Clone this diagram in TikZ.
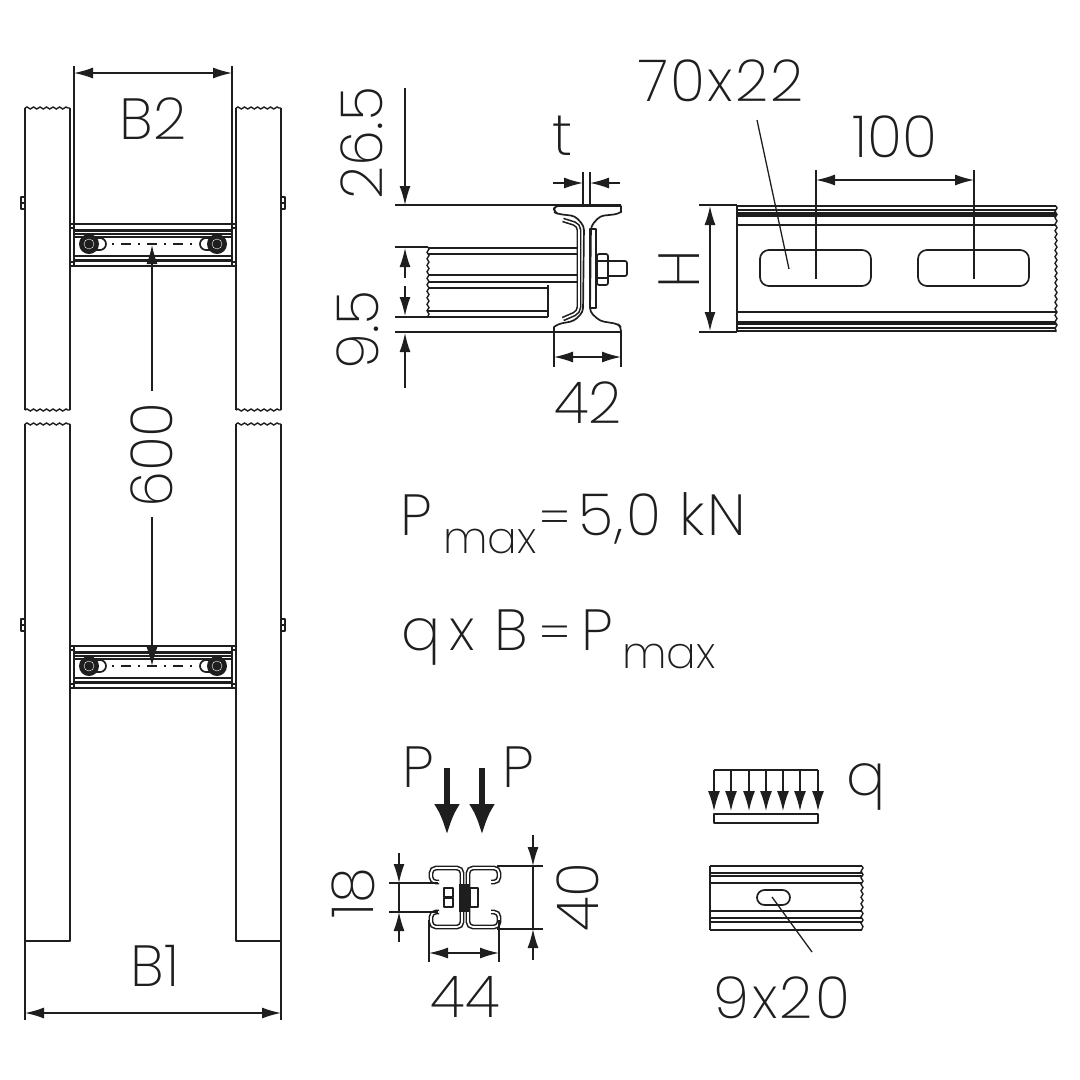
\documentclass[tikz,border=0pt]{standalone}
\usepackage{fontspec}
\usepackage{xcolor}
\usetikzlibrary{arrows.meta,decorations.pathmorphing}
\setmainfont{Poppins}[UprightFont={* ExtraLight}]
\definecolor{ink}{HTML}{1E1E1E}
\tikzset{
  base/.style={draw=ink, line width=1.7pt, line join=round},
  thin/.style={draw=ink, line width=1.3pt},
  heavy/.style={draw=ink, line width=3pt},
  dim/.style={draw=ink, line width=1.4pt, {Latex[length=19pt,width=11pt]}-{Latex[length=19pt,width=11pt]}},
  dimto/.style={draw=ink, line width=1.4pt, -{Latex[length=19pt,width=11pt]}},
  wave/.style={draw=ink, line width=1.4pt, decorate, decoration={snake, amplitude=1pt, segment length=6.5pt}},
  load/.style={draw=ink, line width=1.4pt, -{Latex[length=20pt,width=12pt]}},
  lab/.style={text=ink, font=\fontsize{58pt}{58pt}\selectfont, inner sep=0pt},
  labwide/.style={text=ink, font=\fontsize{58pt}{58pt}\selectfont\addfontfeature{LetterSpace=4}, inner sep=0pt},
  labeq/.style={text=ink, font=\fontsize{50pt}{50pt}\selectfont, inner sep=0pt, anchor=base west},
  labsub/.style={text=ink, font=\fontsize{44pt}{44pt}\selectfont, inner sep=0pt, anchor=base west},
}
\begin{document}
\begin{tikzpicture}[x=1pt,y=-1pt]
  \useasboundingbox (0,0) rectangle (1080,1080);
  % ladder rails
  \foreach \xa/\xb in {25/70,236/281}{
    \draw[base] (\xa,410)--(\xa,108) (\xb,108)--(\xb,410);
    \draw[wave] (\xa,108)--(\xb,108);
    \draw[wave] (\xa,410)--(\xb,410);
    \draw[wave] (\xa,424)--(\xb,424);
    \draw[base] (\xa,424)--(\xa,941)--(\xb,941)--(\xb,424);
  }
  % clips on the rails
  \foreach \ya in {203,625}{
    \draw[base] (25,\ya-6) rectangle (21,\ya+6) (21,\ya)--(25,\ya);
    \draw[base] (281,\ya-6) rectangle (285,\ya+6) (281,\ya)--(285,\ya);
  }
  % rungs
  \foreach \ya in {224,646}{
    \draw[base] (70,\ya)--(236,\ya) (70,\ya+42)--(236,\ya+42);
    \draw[heavy] (74,\ya+6)--(232,\ya+6);
    \draw[base] (74,\ya+10)--(232,\ya+10) (74,\ya+13)--(232,\ya+13);
    \draw[base] (74,\ya+32)--(232,\ya+32);
    \draw[heavy] (74,\ya+36)--(232,\ya+36);
    \draw[base] (74,\ya)--(74,\ya+42) (232,\ya)--(232,\ya+42);
    \draw[thin] (70,\ya+4)--(74,\ya+4) (70,\ya+38)--(74,\ya+38);
    \draw[thin] (232,\ya+4)--(236,\ya+4) (232,\ya+38)--(236,\ya+38);
    \draw[base,rounded corners=6pt] (94,\ya+14)--(106,\ya+14)--(106,\ya+26)--(94,\ya+26);
    \draw[base,rounded corners=6pt] (212,\ya+14)--(200,\ya+14)--(200,\ya+26)--(212,\ya+26);
    \foreach \xa in {89,217}{
      \fill[ink] (\xa,\ya+20) circle (10);
      \draw[white,line width=0.4pt] (\xa,\ya+20) circle (5);
    }
    \draw[thin,dash pattern=on 2pt off 7pt on 10pt off 7pt] (112,\ya+20)--(195,\ya+20);
  }
  % B1, B2 and 600
  \draw[base] (74,66)--(74,224) (232,66)--(232,224);
  \draw[dim] (74,73)--(232,73);
  \draw[base] (25,941)--(25,1020) (281,941)--(281,1020);
  \draw[dim] (25,1013)--(281,1013);
  \node[lab] (labB) at (153,119) {B2};
  \node[lab] (labA) at (155,966) {B1};
  \node[lab,rotate=90] (labS) at (152,455) {600};
  \draw[dimto] (152,391)--(152,245);
  \draw[dimto] (152,517)--(152,666);
  % side view of the rung
  \draw[thin] (395,205)--(621,205) (395,247)--(428,247) (395,317)--(428,317) (395,332)--(621,332);
  \draw[dimto] (405,88)--(405,205);
  \draw[dimto] (405,278)--(405,248);
  \draw[dimto] (405,286)--(405,316);
  \draw[dimto] (405,388)--(405,333);
  \draw[wave] (428,247)--(428,317);
  \foreach \ya in {248,254,275,282}
    \draw[heavy,line width=2.4pt] (428,\ya)--(578,\ya);
  \foreach \ya in {288,311,317}
    \draw[base,line width=2pt] (428,\ya)--(548,\ya);
  \draw[base] (548,285)--(548,317);
  % beam
  \draw[base] (554,206)--(621,206)--(621,212)[rounded corners=4pt]--(618,214)--(600,216)--(591,226)--(590,312)--(600,321)--(618,324)--(621,327)[sharp corners]--(621,332)--(554,332)--(554,327)[rounded corners=4pt]--(558,324)--(574,321)--(583,312)--(584,226)--(575,216)--(558,214)--(554,212)--cycle;
  % bracket
  \draw[ink,line width=4.8pt,rounded corners=5pt] (563,220)--(579,225)--(579,312)--(563,319);
  \draw[white,line width=1.6pt,rounded corners=5pt] (563,220)--(579,225)--(579,312)--(563,319);
  \draw[base] (590,229) rectangle (596,308);
  \draw[base,rounded corners=2pt] (597,254) rectangle (608,285);
  \draw[thin] (597,261)--(608,261) (597,278)--(608,278);
  \draw[base,rounded corners=2pt] (608,261)--(627,261)--(627,276)--(608,276);
  \draw[thin] (583,172)--(583,206) (590,172)--(590,206);
  \draw[dimto] (553,183)--(583,183);
  \draw[dimto] (620,183)--(590,183);
  \draw[thin] (554,332)--(554,367) (621,332)--(621,367);
  \draw[dim] (554,357)--(621,357);
  \node[lab,rotate=90] (labH) at (362,143) {26.5};
  \node[lab,rotate=90] (labL) at (358,330) {9.5};
  \node[lab] (labT) at (563,136) {t};
  \node[lab] (labW) at (588,403) {42};
  % front view of the rung
  \draw[base] (737,205)--(737,332);
  \draw[base] (737,206)--(1056,206) (737,210)--(1056,210) (737,225)--(1056,225) (737,312)--(1056,312) (737,328)--(1056,328) (737,331)--(1056,331);
  \draw[heavy,line width=4.4pt] (737,214.5)--(1056,214.5);
  \draw[heavy,line width=4.4pt] (737,323)--(1056,323);
  \draw[wave] (1056,206)--(1056,332);
  \foreach \xa in {760,918}
    \draw[base,rounded corners=9pt] (\xa,250) rectangle (\xa+111,286);
  \draw[thin] (816,170)--(816,279) (974,170)--(974,279);
  \draw[dim] (816,180)--(974,180);
  \draw[thin] (699,205)--(737,205) (699,332)--(737,332);
  \draw[dim] (710,206)--(710,331);
  \coordinate (slotC) at (789,269);
  \draw[thin] (757,120)--(slotC);
  \node[labwide] (labO) at (721,81) {70x22};
  \node[lab] (labD) at (895,137) {100};
  \node[lab,rotate=90] (labZ) at (679,269) {H};
  % load formulas
  \node[lab,anchor=base west] (pa) at (400,535) {P};
  \node[labsub] (pb) at (443,553) {max};
  \node[labeq] (pc) at (539,535) {=};
  \node[labwide,anchor=base west] (pd) at (578,535) {5,0 kN};
  \node[lab,anchor=base west] (qa) at (401,650) {q};
  \node[lab,anchor=base west] (qb) at (449,650) {x};
  \node[lab,anchor=base west] (qc) at (494,650) {B};
  \node[labeq] (qd) at (539,650) {=};
  \node[lab,anchor=base west] (qe) at (581,650) {P};
  \node[labsub] (qf) at (622,668) {max};
  % P arrows and section
  \node[lab] (labP) at (418,767) {P};
  \node[lab] (labR) at (518,767) {P};
  \foreach \xa in {447,482}
    \draw[ink,line width=6pt,-{Latex[length=31pt,width=26pt]}] (\xa,768)--(\xa,835);
  \foreach \s in {1,-1}{
    \begin{scope}[shift={(465,897)},xscale=\s]
      \draw[ink,line width=4.8pt,rounded corners=5pt] (-26,-15)--(-34,-15)--(-34,-29)--(-3,-29)--(-3,30)--(-34,30)--(-34,15)--(-26,15);
      \draw[white,line width=1.7pt,rounded corners=5pt] (-26,-15)--(-34,-15)--(-34,-29)--(-3,-29)--(-3,30)--(-34,30)--(-34,15)--(-26,15);
    \end{scope}
  }
  \draw[base] (444,888) rectangle (453,897) (444,898) rectangle (453,907);
  \draw[base] (470,888) rectangle (478,907);
  \fill[ink] (459,884) rectangle (469,912);
  \draw[thin] (389,883)--(438,883) (389,912)--(438,912);
  \draw[dimto] (399,853)--(399,883);
  \draw[dimto] (399,942)--(399,912);
  \draw[thin] (399,883)--(399,912);
  \draw[thin] (497,866)--(543,866) (497,929)--(543,929);
  \draw[dimto] (533,835)--(533,866);
  \draw[dimto] (533,960)--(533,929);
  \draw[thin] (533,866)--(533,929);
  \draw[thin] (429,920)--(429,962) (499,920)--(499,962);
  \draw[dim] (429,953)--(499,953);
  \node[lab,rotate=90] (labE) at (353,893) {18};
  \node[lab,rotate=90] (labF) at (578,897) {40};
  \node[lab] (labG) at (465,997) {44};
  % q load
  \draw[base] (714,770)--(818,770);
  \foreach \xa in {714,731,749,766,783,800,818}
    \draw[load] (\xa,770)--(\xa,811);
  \draw[base] (714,814) rectangle (818,823);
  \node[lab,anchor=base] (labQ) at (866,795) {q};
  % rail piece
  \draw[base] (710,866)--(710,930);
  \foreach \ya in {866,873,883,911,918,930}
    \draw[base] (710,\ya)--(862,\ya);
  \draw[thin] (710,876)--(862,876) (710,922)--(862,922);
  \draw[wave] (862,866)--(862,930);
  \draw[base,rounded corners=7.5pt] (757,890) rectangle (790,905);
  \coordinate (slotS) at (772,897);
  \draw[thin] (812,952)--(slotS);
  \node[labwide] (labN) at (782,998) {9x20};
\end{tikzpicture}
\end{document}
